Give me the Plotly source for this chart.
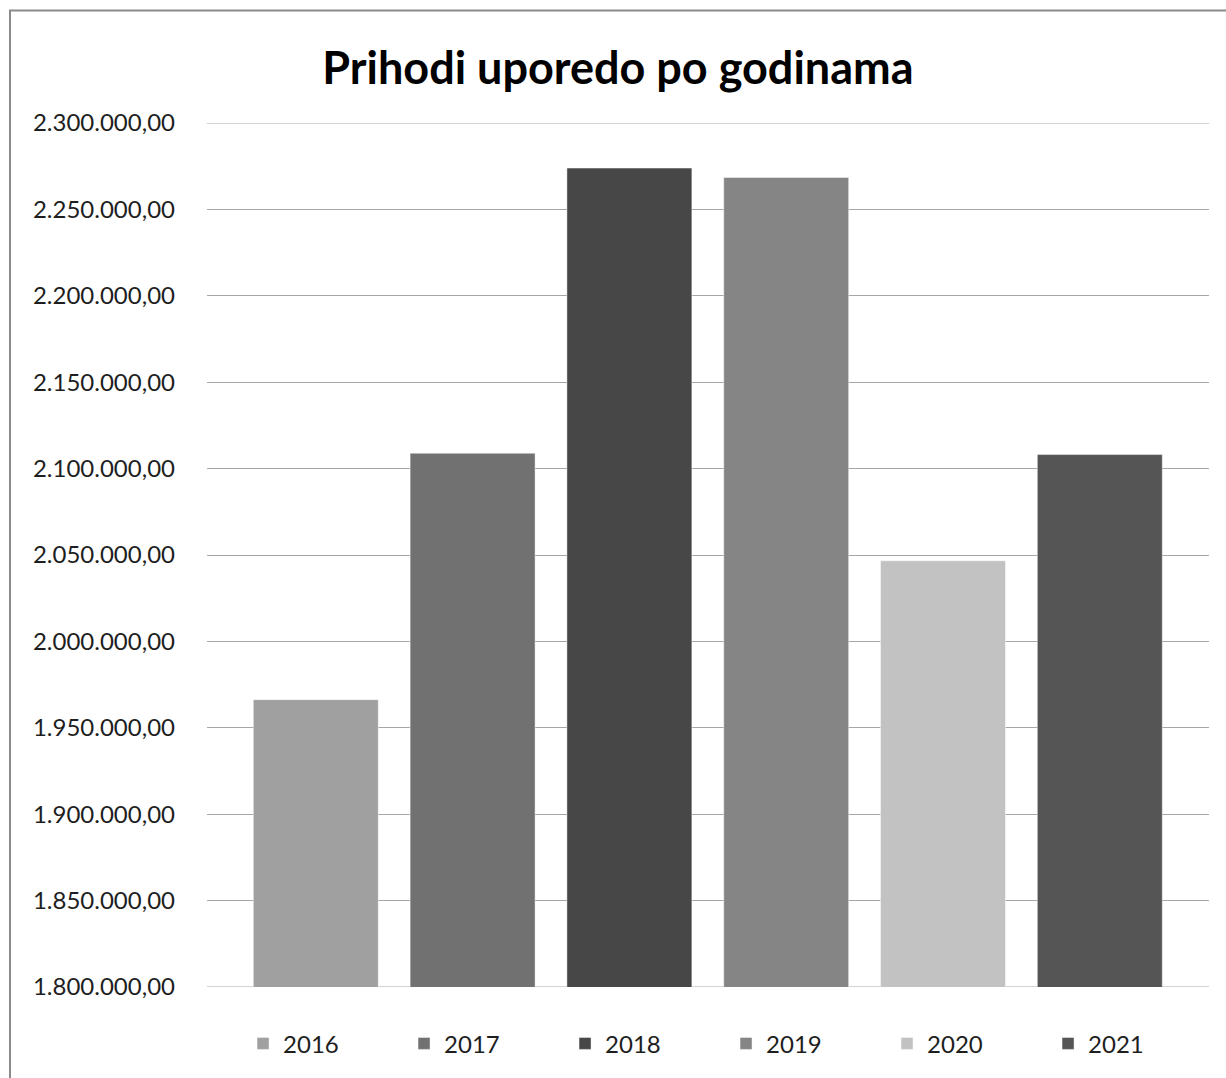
import plotly.graph_objects as go

years = ["2016", "2017", "2018", "2019", "2020", "2021"]
values = [1966300, 2108900, 2273900, 2268450, 2046650, 2108130]
colors = ["#a0a0a0", "#717171", "#474747", "#858585", "#c2c2c2", "#555555"]
title_text = "Prihodi uporedo po godinama"
y_min, y_max, y_step = 1800000, 2300000, 50000

W, H = 1226, 1078
ML, MR, MT, MB = 207, 17, 123, 88
PW, PH = W - ML - MR, H - MT - MB

fig = go.Figure()
for i, (yr, v, c) in enumerate(zip(years, values, colors)):
    fig.add_trace(go.Bar(
        x=[i], y=[v], name=yr,
        marker=dict(color=c, line=dict(color="rgba(255,255,255,0.45)", width=1)),
        hovertemplate=yr + ": %{y:,.2f}<extra></extra>",
    ))

def px_x(p):
    return (p - ML) / PW

def px_y(p):
    return (H - MB - p) / PH

unit = 156.8
left_off = (315.8 - ML) / unit
grid_color = "#a6a6a6"
fig.update_layout(
    width=W, height=H,
    margin=dict(l=ML, r=MR, t=MT, b=MB, pad=0),
    paper_bgcolor="white", plot_bgcolor="white",
    separators=",.",
    bargap=0.203,
    barmode="overlay",
    font=dict(family="Lato, 'Open Sans', sans-serif", color="#1e1e1e"),
    title=dict(text="<b>" + title_text + "</b>", x=0.504, xref="container", xanchor="center",
               y=1 - 68 / H, yref="container", yanchor="middle",
               font=dict(size=45, color="#000000")),
    xaxis=dict(range=[-left_off, -left_off + PW / unit], showticklabels=False,
               showgrid=False, zeroline=False, showline=False, fixedrange=True),
    yaxis=dict(range=[y_min, y_max], dtick=y_step, tick0=y_min, tickformat=",.2f",
               showgrid=True, gridcolor=grid_color, gridwidth=1, zeroline=False,
               showline=False, ticks="", ticklabelstandoff=31,
               tickfont=dict(size=24, color="#1e1e1e")),
    showlegend=True,
    legend=dict(orientation="h", x=0.518, xanchor="center", y=px_y(1047), yanchor="middle",
                font=dict(size=24, color="#1e1e1e"), entrywidth=116, entrywidthmode="pixels",
                traceorder="normal", itemclick=False, itemdoubleclick=False),
    shapes=[
        dict(type="rect", xref="paper", yref="paper",
             x0=px_x(10), x1=px_x(W + 20), y0=px_y(H + 20), y1=px_y(10),
             line=dict(color="#8a8a8a", width=2), layer="below"),
        dict(type="line", xref="paper", yref="y", x0=0, x1=1, y0=y_max, y1=y_max,
             line=dict(color=grid_color, width=1), layer="below"),
        dict(type="line", xref="paper", yref="y", x0=0, x1=1, y0=y_min, y1=y_min,
             line=dict(color=grid_color, width=1), layer="below"),
    ],
)

fig.write_html("out.html", config={"displayModeBar": False},
               post_script="document.body.style.margin='0';document.body.style.overflow='hidden';")
